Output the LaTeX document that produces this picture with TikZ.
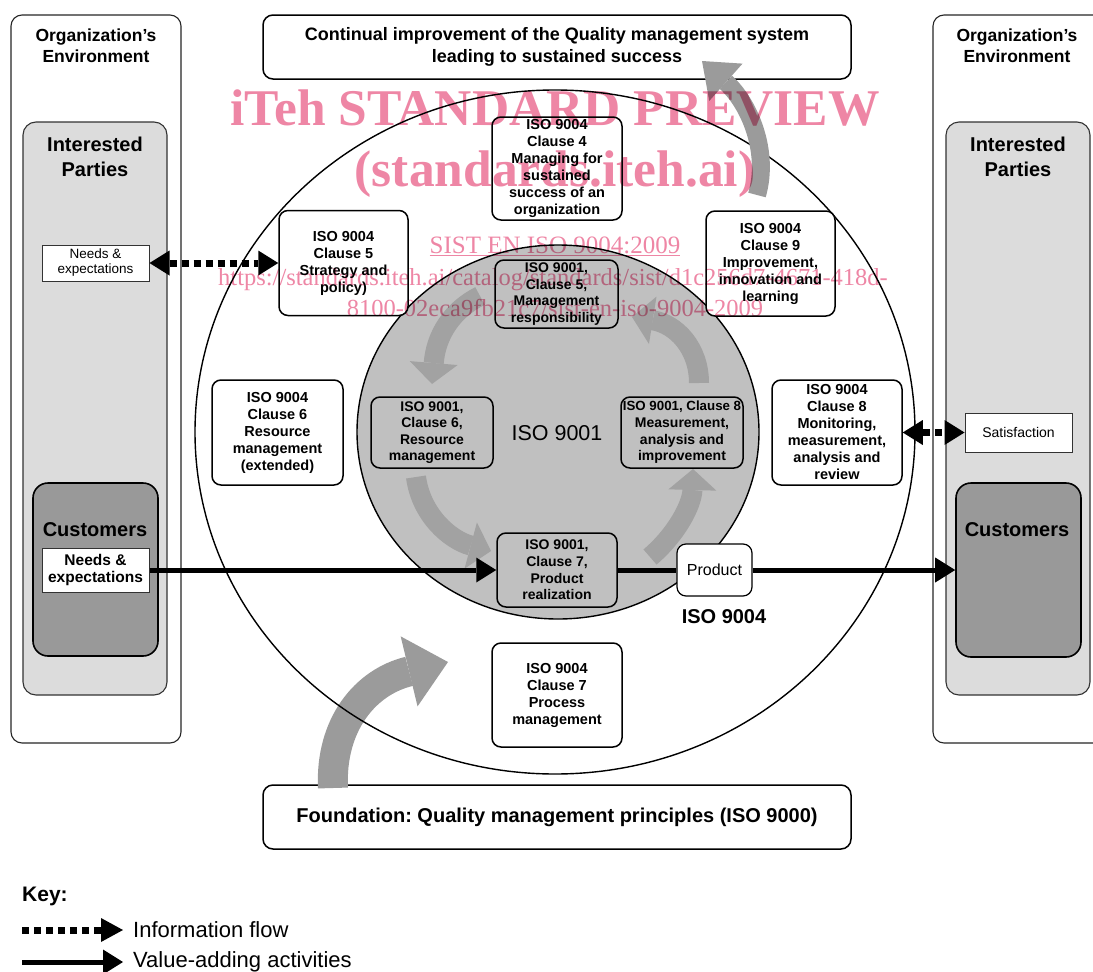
\documentclass[tikz,border=0pt]{standalone}
\usepackage{fontspec}
\setmainfont{Liberation Sans}
\newfontfamily\wmfont{Liberation Serif}
\usetikzlibrary{arrows.meta}
\frenchspacing
\newcommand\setfs[2]{\fontsize{#1}{#2}\selectfont}
\definecolor{ipgray}{RGB}{220,220,220}
\definecolor{custgray}{RGB}{153,153,153}
\definecolor{circgray}{RGB}{192,192,192}
\definecolor{arrgray}{RGB}{162,162,162}
\definecolor{bigarr}{RGB}{155,155,155}
\definecolor{wmpink}{RGB}{238,134,165}
\tikzset{
 envbox/.style={draw=black!85, line width=1.1pt, rounded corners=11pt, fill=white, inner sep=0pt},
 ipbox/.style={draw=black!80, line width=1.1pt, rounded corners=13pt, fill=ipgray, inner sep=0pt},
 custbox/.style={draw=black, line width=1.6pt, rounded corners=15pt, fill=custgray, inner sep=0pt},
 framebox/.style={draw=black, line width=1.5pt, rounded corners=10pt, fill=white, inner sep=0pt, align=center},
 obox/.style={draw=black, line width=1.5pt, rounded corners=9pt, fill=white, inner sep=0pt, align=center, font=\bfseries\setfs{14.5}{17}},
 ibox/.style={draw=black, line width=1.5pt, rounded corners=9pt, fill=circgray, inner sep=0pt, align=center, font=\bfseries\setfs{14}{16.6}},
 plainbox/.style={draw=black!80, line width=1pt, fill=white, inner sep=0pt, align=center},
 info/.style={line width=7pt, dash pattern=on 7pt off 5pt, {Triangle[length=20pt,width=25pt,line width=0pt]}-{Triangle[length=20pt,width=25pt,line width=0pt]}},
 infoone/.style={line width=7pt, dash pattern=on 7pt off 5pt, -{Triangle[length=22pt,width=24pt,line width=0pt]}},
 value/.style={line width=5pt, -{Triangle[length=20pt,width=25pt,line width=0pt]}},
 valueline/.style={line width=5pt},
 garrow/.style={line width=20pt, draw=arrgray, -{Triangle[length=21pt,width=48pt,line width=0pt]}},
 wm/.style={text=wmpink, inner sep=0pt},
}
\begin{document}
\begin{tikzpicture}[x=1pt,y=-1pt]
\useasboundingbox (0,0) rectangle (1093,972);
\clip (0,0) rectangle (1093,972);

% environment
\node[envbox, minimum width=170pt, minimum height=728pt] (envL) at (96,379) {};
\node[envbox, minimum width=180pt, minimum height=728pt] (envR) at (1023,379) {};
\node[font=\bfseries\setfs{17.5}{21}, align=center] (envLt) at (96,46) {Organization’s\\Environment};
\node[font=\bfseries\setfs{17.5}{21}, align=center] (envRt) at (1017,46) {Organization’s\\Environment};

\node[ipbox, minimum width=144pt, minimum height=573pt] (ipL) at (95,408.5) {};
\node[ipbox, minimum width=144pt, minimum height=573pt] (ipR) at (1018,408.5) {};
\node[font=\bfseries\setfs{20}{25}, align=center] (ipLt) at (95,157) {Interested\\Parties};
\node[font=\bfseries\setfs{20}{25}, align=center] (ipRt) at (1018,157) {Interested\\Parties};

\node[custbox, minimum width=125pt, minimum height=173pt] (custL) at (95.5,569.5) {};
\node[custbox, minimum width=125pt, minimum height=174pt] (custR) at (1018.5,570) {};
\node[font=\bfseries\setfs{20}{24}] (custLt) at (95,530) {Customers};
\node[font=\bfseries\setfs{20}{24}] (custRt) at (1017,530) {Customers};

\node[plainbox, minimum width=107pt, minimum height=36pt, font=\setfs{13.5}{15}] (needsL) at (95.5,263) {Needs \&\\expectations};
\node[plainbox, minimum width=107pt, minimum height=44pt, font=\bfseries\setfs{15.5}{17}] (needsC) at (95.5,570) {Needs \&\\expectations};
\node[plainbox, minimum width=107pt, minimum height=39pt, font=\setfs{14}{16}] (satis) at (1018.5,432.5) {Satisfaction};

% top and bottom frames
\node[framebox, minimum width=588pt, minimum height=64pt, font=\bfseries\setfs{18}{22}] (topb) at (557,47) {Continual improvement of the Quality management system\\leading to sustained success};
\node[framebox, minimum width=588pt, minimum height=64pt, font=\bfseries\setfs{20}{22}] (foundb) at (557,817) {Foundation: Quality management principles (ISO 9000)};

% bottom-left big arrow
\coordinate (bB1) at (333,788);
\coordinate (bB2) at (448,662);
\draw[line width=30pt, draw=bigarr, -{Triangle[length=40pt,width=72pt,line width=0pt]}] (bB1) .. controls (330,725) and (365,682) .. (bB2);

% circles
\draw[line width=1.4pt] (555,432) ellipse [x radius=360pt, y radius=342pt];
\draw[line width=1.4pt, fill=circgray] (558,432) ellipse [x radius=201pt, y radius=187pt];

% top-right big arrow
\coordinate (bT1) at (757,195);
\coordinate (bT2) at (702,61);
\draw[line width=18pt, draw=bigarr, -{Triangle[length=32pt,width=50pt,line width=0pt]}] (bT1) .. controls (770,150) and (748,102) .. (bT2);

% inner gray arrows
\coordinate (aA1) at (480,296);
\coordinate (aA2) at (432,384);
\draw[garrow] (aA1) .. controls (452,310) and (436,335) .. (aA2);
\coordinate (aB1) at (416,477);
\coordinate (aB2) at (491,551);
\draw[garrow] (aB1) .. controls (421,515) and (450,540) .. (aB2);
\coordinate (aC1) at (650,557);
\coordinate (aC2) at (693,469);
\draw[garrow] (aC1) .. controls (676,535) and (692,505) .. (aC2);
\coordinate (aD1) at (699,383);
\coordinate (aD2) at (632,317);
\draw[garrow] (aD1) .. controls (699,348) and (676,324) .. (aD2);

% labels inside
\node[font=\setfs{21.5}{24}] (l9001) at (557,433) {ISO 9001};
\node[font=\bfseries\setfs{20}{24}] (l9004) at (724,617) {ISO 9004};

% ISO 9004 boxes
\node[obox, minimum width=130pt, minimum height=103pt] (c4) at (557,168.5) {ISO 9004\\Clause 4\\Managing for\\sustained\\success of an\\organization};
\node[obox, minimum width=129pt, minimum height=105pt] (c5s) at (343.5,263) {ISO 9004\\Clause 5\\Strategy and\\policy)};
\node[obox, minimum width=129pt, minimum height=105pt] (c9) at (770.5,263.5) {ISO 9004\\Clause 9\\Improvement,\\innovation and\\learning};
\node[obox, minimum width=131pt, minimum height=105pt] (c6e) at (277.5,432.5) {ISO 9004\\Clause 6\\Resource\\management\\(extended)};
\node[obox, minimum width=130pt, minimum height=105pt] (c8m) at (837,432.5) {ISO 9004\\Clause 8\\Monitoring,\\measurement,\\analysis and\\review};
\node[obox, minimum width=130pt, minimum height=104pt] (c7p) at (557,695) {ISO 9004\\Clause 7\\Process\\management};

% ISO 9001 boxes
\node[ibox, minimum width=123pt, minimum height=68pt] (i5) at (556.5,294) {ISO 9001,\\Clause 5,\\Management\\responsibility};
\node[ibox, minimum width=122pt, minimum height=71pt] (i6) at (432,432.5) {ISO 9001,\\Clause 6,\\Resource\\management};
\node[ibox, minimum width=122pt, minimum height=71pt] (i8) at (682,432.5) {{\setfs{13.3}{16.6}ISO 9001, Clause 8}\\Measurement,\\analysis and\\improvement};
\node[ibox, minimum width=120pt, minimum height=74pt] (i7) at (557,570) {ISO 9001,\\Clause 7,\\Product\\realization};

% value-adding flow
\node[draw=black, line width=1.2pt, rounded corners=9pt, fill=white, minimum width=75pt, minimum height=52pt, inner sep=0pt, font=\setfs{16}{18}] (prod) at (714.5,570) {Product};
\draw[value] (needsC.east) -- (i7.west);
\draw[valueline] (i7.east) -- (prod.west);
\draw[value] (prod.east) -- (custR.west);

% information flow
\draw[info] (needsL.east) -- (c5s.west);
\draw[info] (c8m.east) -- (satis.west);

% key
\node[anchor=base west, font=\bfseries\setfs{21}{24}, inner sep=0pt] (keyt) at (22,901) {Key:};
\coordinate (k1a) at (22,930);
\coordinate (k1b) at (123,930);
\draw[infoone] (k1a) -- (k1b);
\node[anchor=west, font=\setfs{22}{26}, inner sep=0pt] (k1t) at (133,930) {Information flow};
\coordinate (k2a) at (22,962);
\coordinate (k2b) at (123,962);
\draw[value] (k2a) -- (k2b);
\node[anchor=west, font=\setfs{22}{26}, inner sep=0pt] (k2t) at (133,962) {Value-adding activities};

% watermark
\begin{scope}[blend mode=multiply]
\node[wm, anchor=base, font=\wmfont\bfseries\setfs{51.5}{60}] (wm1) at (555,125) {iTeh STANDARD PREVIEW};
\node[wm, anchor=base, font=\wmfont\bfseries\setfs{51.5}{60}] (wm2) at (555,186) {(standards.iteh.ai)};
\node[wm, anchor=base, font=\wmfont\setfs{25}{30}] (wm3) at (555,253) {\underline{SIST EN ISO 9004:2009}};
\node[wm, anchor=base, font=\wmfont\setfs{24.5}{30}] (wm4) at (553,285) {https://standards.iteh.ai/catalog/standards/sist/d1c256d7-4671-418d-};
\node[wm, anchor=base, font=\wmfont\setfs{24.5}{30}] (wm5) at (555,316) {8100-02eca9fb21c7/sist-en-iso-9004-2009};
\end{scope}
\end{tikzpicture}
\end{document}
